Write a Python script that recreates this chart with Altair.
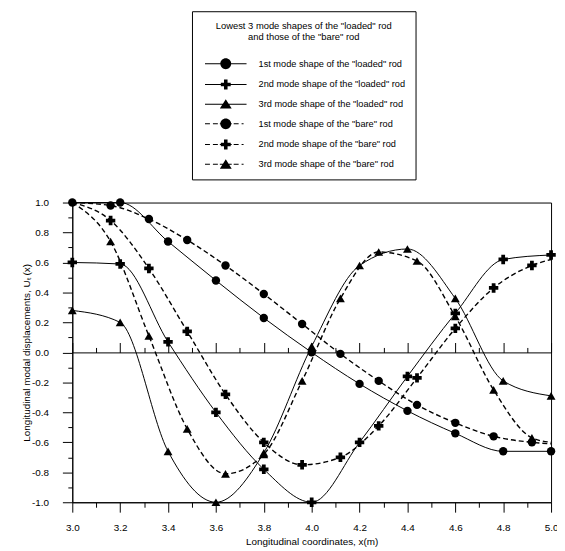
import altair as alt
import pandas as pd

# ---------------- data ----------------
x_loaded = [3.0, 3.2, 3.4, 3.6, 3.8, 4.0, 4.2, 4.4, 4.6, 4.8, 5.0]
loaded_1 = [1.0, 1.0, 0.74, 0.48, 0.23, 0.0, -0.21, -0.39, -0.54, -0.66, -0.66]
loaded_2 = [0.60, 0.59, 0.07, -0.40, -0.78, -1.0, -0.60, -0.16, 0.26, 0.62, 0.65]
loaded_3 = [0.28, 0.20, -0.66, -1.0, -0.67, 0.04, 0.58, 0.69, 0.36, -0.19, -0.29]

x_bare = [3.0, 3.16, 3.32, 3.48, 3.64, 3.80, 3.96, 4.12, 4.28, 4.44, 4.60, 4.76, 4.92, 5.0]
bare_1 = [1.0, 0.98, 0.89, 0.75, 0.58, 0.39, 0.19, -0.01, -0.19, -0.35, -0.47, -0.56, -0.60, -0.61]
bare_2 = [1.0, 0.88, 0.56, 0.14, -0.28, -0.60, -0.75, -0.70, -0.49, -0.17, 0.16, 0.43, 0.58, 0.62]
bare_3 = [1.0, 0.74, 0.11, -0.51, -0.81, -0.68, -0.19, 0.36, 0.67, 0.61, 0.24, -0.25, -0.57, -0.60]

series_labels = [
    '1st mode shape of the "loaded" rod',
    '2nd mode shape of the "loaded" rod',
    '3rd mode shape of the "loaded" rod',
    '1st mode shape of the "bare" rod',
    '2nd mode shape of the "bare" rod',
    '3rd mode shape of the "bare" rod',
]
legend_title = ['Lowest 3 mode shapes of the "loaded" rod', 'and those of the "bare" rod']
x_title = "Longitudinal coordinates, x(m)"
y_title = "Longitudinal modal  displacements, U\u209c (x)"

x_ticks = [round(3.0 + 0.1 * i, 1) for i in range(21)]
y_ticks = [round(-1.0 + 0.1 * i, 1) for i in range(21)]

# ---------------- tables ----------------
line_rows, pt_rows = [], []
for mode, ys, lab in [(1, loaded_1, series_labels[0]), (2, loaded_2, series_labels[1]), (3, loaded_3, series_labels[2])]:
    for x, y in zip(x_loaded, ys):
        line_rows.append(dict(x=x, y=y, series=lab, kind="loaded", mode=mode))
        pt_rows.append(dict(x=x, y=y, series=lab, kind="loaded", mode=mode))
for mode, ys, lab in [(1, bare_1, series_labels[3]), (2, bare_2, series_labels[4]), (3, bare_3, series_labels[5])]:
    for i, (x, y) in enumerate(zip(x_bare, ys)):
        line_rows.append(dict(x=x, y=y, series=lab, kind="bare", mode=mode))
        if 0 < i < len(x_bare) - 1:
            pt_rows.append(dict(x=x, y=y, series=lab, kind="bare", mode=mode))
line_df = pd.DataFrame(line_rows)
pt_df = pd.DataFrame(pt_rows)

# ---------------- geometry / style ----------------
W, H = 484, 303
FONT = "Liberation Sans"
major = "round(datum.value*10) % 2 == 0"
lab_expr = f"{major} ? ((datum.value < 0 ? '-' : '') + format(abs(datum.value), '.1f')) : ''"

xs = alt.Scale(domain=[3, 5], nice=False, zero=False)
ys_ = alt.Scale(domain=[-1, 1], nice=False, zero=False)

x_axis_bottom = alt.Axis(
    orient="bottom", values=x_ticks, labelExpr=lab_expr, title=x_title,
    tickSize={"condition": {"test": major, "value": 10}, "value": 5},
    grid=False, labelFlush=False, labelOverlap=False,
    domainColor="black", tickColor="black", labelColor="black", titleColor="black",
    labelFont=FONT, labelFontSize=10, labelPadding=11,
    titleFont=FONT, titleFontSize=10, titleFontWeight="normal", titleY=35,
)
x_axis_zero = alt.Axis(
    orient="top", offset=-H / 2, values=x_ticks, labels=False, title=None,
    tickSize={"condition": {"test": major, "value": 10}, "value": 5},
    grid=False, domainColor="black", tickColor="black",
)
y_axis = alt.Axis(
    orient="left", values=y_ticks, labelExpr=lab_expr, title=y_title,
    tickSize={"condition": {"test": major, "value": 10}, "value": 4.5},
    grid=False, labelFlush=False, labelOverlap=False,
    domainColor="black", tickColor="black", labelColor="black", titleColor="black",
    labelFont=FONT, labelFontSize=10, labelPadding=14,
    titleFont=FONT, titleFontSize=10, titleFontWeight="normal", titleX=-41, titleY=H / 2,
)

# legend symbols: line segment + marker as one filled custom path (pixel units at size 4)
def seg(a, b):
    return f"M{a},-0.5H{b}V0.5H{a}Z"

circ = "M14,0A5.5,5.5,0,1,1,25,0A5.5,5.5,0,1,1,14,0Z"
cross = "M17.7,-5H21.3V-1.8H24.5V1.8H21.3V5H17.7V1.8H14.5V-1.8H17.7Z"
tri = "M19.5,-5L25.5,4.5L13.5,4.5Z"
solid = seg(-1.5, 40.5)
dashed = seg(-1.5, 3.5) + seg(6.5, 11.5) + seg(13.5, 25.5) + seg(27.5, 32.5) + seg(35.5, 37.5)
legend_paths = [solid + circ, solid + cross, solid + tri, dashed + circ, dashed + cross, dashed + tri]

base_line = alt.Chart(line_df)

loaded_lines = base_line.transform_filter(alt.datum.kind == "loaded").mark_line(
    interpolate="monotone", color="black", strokeWidth=1
).encode(
    x=alt.X("x:Q", scale=xs, axis=x_axis_bottom),
    y=alt.Y("y:Q", scale=ys_, axis=y_axis),
    detail="series:N",
)
bare_lines = base_line.transform_filter(alt.datum.kind == "bare").mark_line(
    interpolate="monotone", color="black", strokeWidth=1.4, strokeDash=[5, 3]
).encode(
    x=alt.X("x:Q", scale=xs, axis=x_axis_zero),
    y=alt.Y("y:Q", scale=ys_, axis=None),
    detail="series:N",
)

point_layers = []
for mode, shape, size in [(1, "circle", 72), (2, "cross", 90), (3, "triangle-up", 80)]:
    point_layers.append(
        alt.Chart(pt_df).transform_filter(alt.datum.mode == mode).mark_point(
            shape=shape, filled=True, color="black", size=size, opacity=1
        ).encode(
            x=alt.X("x:Q", scale=xs, axis=None),
            y=alt.Y("y:Q", scale=ys_, axis=None),
        )
    )

legend_layer = alt.Chart(pt_df).mark_point(
    opacity=0, size=4, filled=True, color="black"
).encode(
    x=alt.X("x:Q", scale=xs, axis=None),
    y=alt.Y("y:Q", scale=ys_, axis=None),
    shape=alt.Shape(
        "series:N",
        scale=alt.Scale(domain=series_labels, range=legend_paths),
        legend=alt.Legend(
            title=legend_title, orient="none", legendX=121, legendY=-193.4, direction="vertical",
            symbolSize=4, symbolFillColor="black", symbolStrokeWidth=0,
            symbolOpacity=1, symbolOffset=0, labelOffset=48, labelLimit=400,
            labelFont=FONT, labelFontSize=9.3, labelColor="black",
            titleFont=FONT, titleFontSize=9.5, titleFontWeight="normal", titleColor="black",
            titleAnchor="middle", titleAlign="center", titlePadding=18, titleLineHeight=11,
            rowPadding=8.9, padding=10, strokeColor="black", fillColor="white",
        ),
    ),
)

chart = alt.layer(loaded_lines, bare_lines, *point_layers, legend_layer).resolve_axis(
    x="independent", y="independent"
).properties(
    width=W, height=H,
    padding={"left": 65, "top": 193.7, "right": 6, "bottom": 48},
    autosize=alt.AutoSizeParams(type="none"),
).configure_view(stroke="black", strokeWidth=1)

chart.save("out.html", embed_options={"renderer": "svg", "actions": False})
